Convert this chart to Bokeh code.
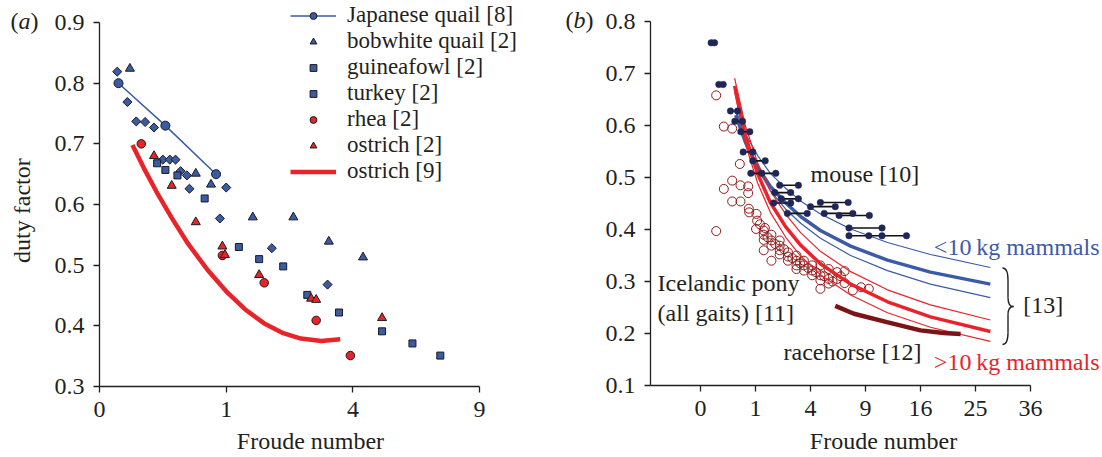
import numpy as np
from bokeh.plotting import figure
from bokeh.layouts import row
from bokeh.models import Range1d, FixedTicker, Legend, LegendItem, Label, CustomJSTickFormatter
from bokeh.embed import file_html
from bokeh.resources import INLINE

FONT = "Liberation Serif"
INK = "#231f20"
BLUE = "#3b5ba5"
RED = "#e8242a"
NAVY = "#1f2658"
PONY = "#8e1b1b"
HORSE = "#7b1416"

# ---------------- panel (a) data: sqrt(Froude number), duty factor ----------------
a_xtick_fr = [0, 1, 4, 9]
a_yticks = [0.3, 0.4, 0.5, 0.6, 0.7, 0.8, 0.9]

jq_sqrtfr = [0.15, 0.52, 0.92]
jq_duty = [0.800, 0.730, 0.650]

bob_sqrtfr = [0.24, 0.76, 0.88, 1.21, 1.53, 1.81, 2.08]
bob_duty = [0.824, 0.651, 0.633, 0.579, 0.579, 0.539, 0.513]

guinea_sqrtfr = [0.14, 0.22, 0.29, 0.36, 0.43, 0.50, 0.555, 0.60, 0.64, 0.69, 0.71, 0.95, 1.00, 1.36, 1.80]
guinea_duty = [0.819, 0.769, 0.737, 0.736, 0.727, 0.674, 0.674, 0.674, 0.655, 0.648, 0.626, 0.577, 0.628, 0.528, 0.468]

turkey_sqrtfr = [0.455, 0.52, 0.615, 0.83, 1.10, 1.26, 1.45, 1.64, 1.89, 2.23, 2.47, 2.69]
turkey_duty = [0.668, 0.657, 0.648, 0.610, 0.530, 0.510, 0.498, 0.451, 0.422, 0.391, 0.371, 0.351]

rhea_sqrtfr = [0.33, 0.97, 1.30, 1.71, 1.98]
rhea_duty = [0.700, 0.516, 0.471, 0.409, 0.351]

ostr_sqrtfr = [0.43, 0.57, 0.76, 0.97, 0.99, 1.26, 1.67, 1.71, 2.23]
ostr_duty = [0.680, 0.631, 0.571, 0.531, 0.517, 0.484, 0.445, 0.443, 0.413]

ostr9_sqrtfr = [0.26, 0.35, 0.45, 0.57, 0.70, 0.85, 1.00, 1.15, 1.30, 1.45, 1.59, 1.75, 1.90]
ostr9_duty = [0.698, 0.660, 0.621, 0.578, 0.535, 0.493, 0.457, 0.427, 0.404, 0.388, 0.379, 0.375, 0.378]

# ---------------- panel (b) data ----------------
b_xtick_fr = [0, 1, 4, 9, 16, 25, 36]
b_yticks = [0.1, 0.2, 0.3, 0.4, 0.5, 0.6, 0.7, 0.8]

# mouse strides: each row = points joined by a horizontal bar
mouse_rows_sqrtfr = [
    [0.194, 0.255], [0.333, 0.412], [0.545, 0.673], [0.624, 0.764], [0.733, 0.896],
    [0.776, 0.951], [0.951, 1.176], [0.915, 1.115, 1.369], [1.44, 1.78], [1.35, 1.64],
    [1.47, 1.78], [1.33, 1.64], [2.18, 2.685], [2.00, 2.45], [1.58, 1.94],
    [2.25, 2.77], [2.52, 3.07], [2.70, 3.30], [2.70, 3.06, 3.30, 3.745],
]
mouse_rows_duty = [0.759, 0.679, 0.628, 0.608, 0.588, 0.549, 0.532, 0.508, 0.485, 0.471,
                   0.459, 0.451, 0.452, 0.444, 0.431, 0.431, 0.427, 0.403, 0.388]

pony_sqrtfr = [0.285, 0.424, 0.576, 0.715, 0.576, 0.424, 0.727, 0.867, 0.867, 0.576,
               0.727, 0.879, 0.885, 1.018, 1.030, 1.170, 0.285, 1.010, 1.150, 1.150,
               1.150, 1.150, 1.290, 1.290, 1.290, 1.290, 1.440, 1.440, 1.440, 1.440,
               1.590, 1.590, 1.590, 1.745, 1.745, 1.745, 1.745, 1.880, 1.880, 1.880,
               2.030, 2.030, 2.030, 2.180, 2.180, 2.180, 2.180, 2.330, 2.330, 2.330,
               2.485, 2.485, 2.620, 2.620, 2.770, 2.920, 3.060, 1.080, 1.220, 1.360,
               1.520, 1.670, 1.810, 1.960, 2.100, 2.250, 2.400, 2.550]
pony_duty = [0.658, 0.598, 0.594, 0.526, 0.494, 0.478, 0.485, 0.483, 0.470, 0.454,
             0.454, 0.440, 0.433, 0.430, 0.417, 0.403, 0.397, 0.401, 0.398, 0.390,
             0.380, 0.360, 0.390, 0.379, 0.369, 0.340, 0.379, 0.369, 0.360, 0.352,
             0.356, 0.348, 0.340, 0.350, 0.340, 0.331, 0.324, 0.340, 0.331, 0.321,
             0.331, 0.321, 0.312, 0.331, 0.312, 0.302, 0.286, 0.324, 0.305, 0.296,
             0.318, 0.305, 0.320, 0.297, 0.283, 0.289, 0.286, 0.410, 0.385, 0.372,
             0.362, 0.345, 0.335, 0.326, 0.318, 0.310, 0.300, 0.310]

# allometric curves [13]
small_sqrtfr = [0.64, 0.82, 1.04, 1.27, 1.55, 1.82, 2.18, 2.73, 3.40, 4.18, 5.27]
small_upper = [0.630, 0.583, 0.542, 0.508, 0.479, 0.455, 0.430, 0.401, 0.375, 0.352, 0.327]
small_mid = [0.620, 0.567, 0.520, 0.483, 0.451, 0.425, 0.398, 0.368, 0.341, 0.318, 0.295]
small_lower = [0.627, 0.567, 0.516, 0.475, 0.439, 0.412, 0.383, 0.350, 0.321, 0.295, 0.269]

large_sqrtfr = [0.62, 0.82, 1.04, 1.27, 1.55, 1.82, 2.18, 2.73, 3.40, 4.18, 5.27]
large_upper = [0.691, 0.598, 0.528, 0.474, 0.429, 0.394, 0.358, 0.319, 0.284, 0.255, 0.226]
large_mid = [0.676, 0.579, 0.507, 0.452, 0.405, 0.370, 0.334, 0.295, 0.261, 0.232, 0.204]
large_lower = [0.665, 0.563, 0.489, 0.433, 0.385, 0.349, 0.313, 0.274, 0.240, 0.212, 0.185]

horse_sqrtfr = [2.45, 2.79, 3.39, 4.00, 4.42, 4.73]
horse_duty = [0.253, 0.238, 0.222, 0.206, 0.201, 0.199]

sq_fmt = CustomJSTickFormatter(code="return String(Math.round(tick*tick));")


def style(p, xticks_fr, yticks, xb, yb):
    p.outline_line_color = None
    p.grid.visible = False
    p.background_fill_color = "white"
    p.border_fill_color = "white"
    p.xaxis.ticker = FixedTicker(ticks=[float(np.sqrt(v)) for v in xticks_fr])
    p.xaxis.formatter = sq_fmt
    p.yaxis.ticker = FixedTicker(ticks=yticks)
    p.xaxis.bounds = xb
    p.yaxis.bounds = yb
    p.xaxis.fixed_location = yb[0]
    p.yaxis.fixed_location = xb[0]
    for ax in (p.xaxis[0], p.yaxis[0]):
        ax.axis_line_color = INK
        ax.axis_line_width = 1.3
        ax.major_tick_line_color = INK
        ax.major_tick_line_width = 1.3
        ax.major_tick_out = 6
        ax.major_tick_in = 0
        ax.minor_tick_out = 0
        ax.minor_tick_in = 0
        ax.major_label_text_font = FONT
        ax.major_label_text_font_size = "24px"
        ax.major_label_text_color = INK
    p.xaxis.major_label_standoff = 9
    p.yaxis.major_label_standoff = 9


def text(p, x, y, s, color=INK, align="left", angle=0.0, style="normal"):
    p.add_layout(Label(x=x, y=y, text=s, text_font=FONT, text_font_size="24px",
                       text_color=color, text_align=align, text_baseline="middle",
                       angle=angle, text_font_style=style))


def panel_tag(p, x, y, letter):
    kw = dict(y=y, text_font=FONT, text_font_size="24px", text_color=INK,
              text_baseline="middle", text_align="left")
    p.add_layout(Label(x=x, x_offset=0, text="(", **kw))
    p.add_layout(Label(x=x, x_offset=8, text=letter, text_font_style="italic", **kw))
    p.add_layout(Label(x=x, x_offset=20, text=")", **kw))


# ================= panel (a) =================
pa = figure(width=558, height=455, x_range=Range1d(-0.7814, 3.6227), y_range=Range1d(0.1863, 0.9363),
            output_backend="svg", toolbar_location=None, min_border=0)
style(pa, a_xtick_fr, a_yticks, (0, 3), (0.3, 0.9))

ol = dict(line_color="#1a1a1a", line_width=1)
r_o9 = pa.line(ostr9_sqrtfr, ostr9_duty, line_color=RED, line_width=4.5)
r_jql = pa.line(jq_sqrtfr, jq_duty, line_color=BLUE, line_width=1.5)
r_jq = pa.scatter(jq_sqrtfr, jq_duty, marker="circle", size=9, fill_color=BLUE, **ol)
r_bob = pa.scatter(bob_sqrtfr, bob_duty, marker="triangle", size=9, fill_color=BLUE, **ol)
r_gui = pa.scatter(guinea_sqrtfr, guinea_duty, marker="square", angle=np.pi / 4, size=6.4,
                   fill_color=BLUE, **ol)
r_tur = pa.scatter(turkey_sqrtfr, turkey_duty, marker="square", size=7, fill_color=BLUE, **ol)
r_rhea = pa.scatter(rhea_sqrtfr, rhea_duty, marker="circle", size=8.5, fill_color=RED, **ol)
r_ost = pa.scatter(ostr_sqrtfr, ostr_duty, marker="triangle", size=9, fill_color=RED, **ol)

legend = Legend(items=[
    LegendItem(label="Japanese quail [8]", renderers=[r_jql, r_jq]),
    LegendItem(label="bobwhite quail [2]", renderers=[r_bob]),
    LegendItem(label="guineafowl [2]", renderers=[r_gui]),
    LegendItem(label="turkey [2]", renderers=[r_tur]),
    LegendItem(label="rhea [2]", renderers=[r_rhea]),
    LegendItem(label="ostrich [2]", renderers=[r_ost]),
    LegendItem(label="ostrich [9]", renderers=[r_o9]),
], location=(290, 271), margin=0, padding=0, spacing=0, label_standoff=11,
    glyph_width=46, glyph_height=17, label_height=17,
    label_text_font=FONT, label_text_font_size="23px", label_text_color=INK,
    border_line_color=None, background_fill_alpha=0)
pa.add_layout(legend)

text(pa, 1.665, 0.211, "Froude number", align="center")
text(pa, -0.608, 0.59, "duty factor", align="center", angle=np.pi / 2)
panel_tag(pa, -0.7025, 0.903, "a")

# ================= panel (b) =================
pb = figure(width=542, height=455, x_range=Range1d(-2.5818, 7.2727), y_range=Range1d(-0.0346, 0.8404),
            output_backend="svg", toolbar_location=None, min_border=0)
style(pb, b_xtick_fr, b_yticks, (-0.909, 6), (0.1, 0.8))

pb.scatter(pony_sqrtfr, pony_duty, marker="circle", size=9, fill_color=None,
           line_color=PONY, line_width=1)

for ys, lw in ((small_upper, 1.2), (small_lower, 1.2), (small_mid, 3.5)):
    pb.line(small_sqrtfr, ys, line_color=BLUE, line_width=lw)
for ys, lw in ((large_upper, 1.2), (large_lower, 1.2), (large_mid, 3.5)):
    pb.line(large_sqrtfr, ys, line_color=RED, line_width=lw)
pb.line(horse_sqrtfr, horse_duty, line_color=HORSE, line_width=4.5)

mx = [r for r in mouse_rows_sqrtfr]
my = [[d] * len(r) for r, d in zip(mouse_rows_sqrtfr, mouse_rows_duty)]
pb.multi_line(mx, my, line_color="#111111", line_width=1.6)
pb.scatter([v for r in mx for v in r], [v for r in my for v in r], marker="circle", size=6.5,
           fill_color=NAVY, line_color=NAVY, line_width=0.5)

# brace for [13]
bx = [5.491, 5.591, 5.691]
by = [0.326, 0.303, 0.269, 0.252, 0.236, 0.202, 0.179]
pb.quadratic(x0=[bx[0], bx[1], bx[2], bx[1]], y0=[by[0], by[2], by[3], by[5]],
             x1=[bx[1], bx[2], bx[1], bx[0]], y1=[by[1], by[3], by[4], by[6]],
             cx=[bx[1], bx[1], bx[1], bx[1]], cy=[by[0], by[3], by[3], by[6]],
             line_color=INK, line_width=1.4)
pb.segment(x0=[bx[1], bx[1]], y0=[by[1], by[4]], x1=[bx[1], bx[1]], y1=[by[2], by[5]],
           line_color=INK, line_width=1.4)

text(pb, 2.0, 0.507, "mouse [10]")
text(pb, 7.2545, 0.366, "<10\u2009kg mammals", color="#3d5aa8", align="right")
text(pb, 7.2545, 0.146, ">10\u2009kg mammals", color=RED, align="right")
text(pb, 1.51, 0.165, "racehorse [12]")
text(pb, -0.78, 0.297, "Icelandic pony")
text(pb, -0.78, 0.240, "(all gaits) [11]")
text(pb, 5.87, 0.255, "[13]")
text(pb, 3.327, -0.006, "Froude number", align="center")
panel_tag(pb, -2.4545, 0.802, "b")

layout = row(pa, pb)
open("out.html", "w").write(file_html(layout, INLINE))
